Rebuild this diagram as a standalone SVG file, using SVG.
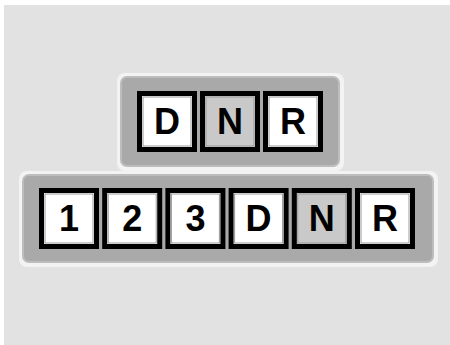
<svg xmlns="http://www.w3.org/2000/svg" width="450" height="345" viewBox="0 0 450 345">
<style>
.bg{fill:#e2e2e2}
.rim{fill:#f3f3f3}
.panel{fill:#a9a9a9;stroke:#bdbdbd;stroke-width:2}
.key{fill:#ffffff;stroke:#000;stroke-width:5}
.keyN{fill:#c9c9c9;stroke:#000;stroke-width:5}
.inner{fill:none;stroke:#9a9a9a;stroke-width:1}
.lbl{font-family:"Liberation Sans",Arial,sans-serif;font-weight:bold;font-size:36px;fill:#000;text-anchor:middle}
</style>
<rect x="0" y="0" width="450" height="345" fill="#ffffff"/>
<rect class="bg" x="4" y="5" width="446" height="340"/>
<g id="panel-top">
<rect class="rim" x="117" y="73" width="227" height="98" rx="8"/>
<rect class="panel" x="121" y="77" width="218" height="89" rx="6"/>
</g>
<g id="key-top-D"><rect class="key" x="139.5" y="93.5" width="55" height="56"/><rect class="inner" x="143" y="97" width="48" height="49"/><text class="lbl" x="167" y="134">D</text></g>
<g id="key-top-N"><rect class="keyN" x="202.5" y="93.5" width="55" height="56"/><rect class="inner" x="206" y="97" width="48" height="49"/><text class="lbl" x="230" y="134">N</text></g>
<g id="key-top-R"><rect class="key" x="265.5" y="93.5" width="55" height="56"/><rect class="inner" x="269" y="97" width="48" height="49"/><text class="lbl" x="293" y="134">R</text></g>
<g id="panel-bottom">
<rect class="rim" x="19" y="171" width="419" height="96" rx="8"/>
<rect class="panel" x="23" y="175" width="410" height="87" rx="6"/>
</g>
<g id="key-1"><rect class="key" x="41.5" y="190.5" width="55" height="56"/><rect class="inner" x="45" y="194" width="48" height="49"/><text class="lbl" x="69" y="231">1</text></g>
<g id="key-2"><rect class="key" x="104.7" y="190.5" width="55" height="56"/><rect class="inner" x="108.2" y="194" width="48" height="49"/><text class="lbl" x="132.2" y="231">2</text></g>
<g id="key-3"><rect class="key" x="167.9" y="190.5" width="55" height="56"/><rect class="inner" x="171.4" y="194" width="48" height="49"/><text class="lbl" x="195.4" y="231">3</text></g>
<g id="key-D"><rect class="key" x="231.1" y="190.5" width="55" height="56"/><rect class="inner" x="234.6" y="194" width="48" height="49"/><text class="lbl" x="258.6" y="231">D</text></g>
<g id="key-N"><rect class="keyN" x="294.3" y="190.5" width="55" height="56"/><rect class="inner" x="297.8" y="194" width="48" height="49"/><text class="lbl" x="321.8" y="231">N</text></g>
<g id="key-R"><rect class="key" x="357.5" y="190.5" width="55" height="56"/><rect class="inner" x="361" y="194" width="48" height="49"/><text class="lbl" x="385" y="231">R</text></g>
<g id="connectors"/>
</svg>
